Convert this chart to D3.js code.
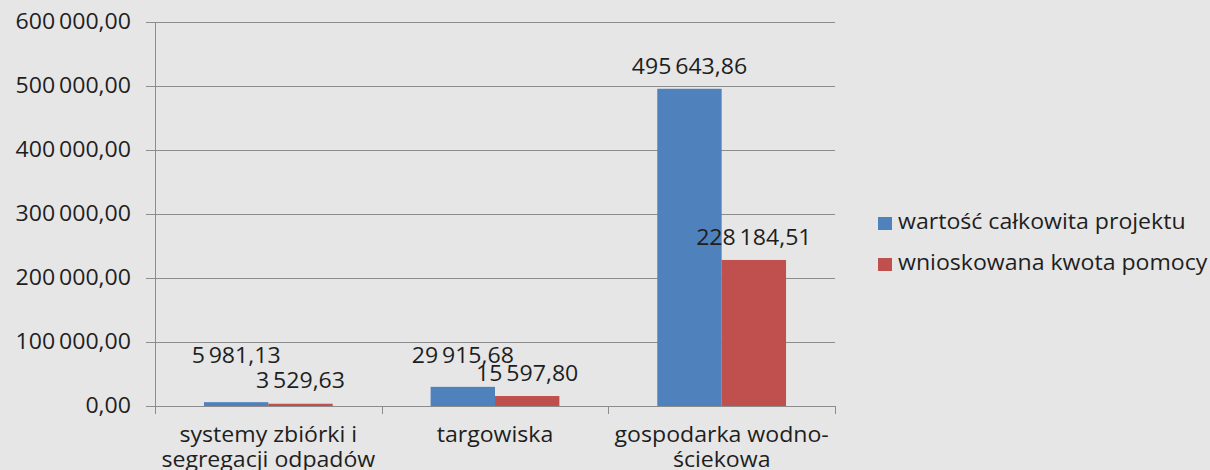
<!DOCTYPE html>
<html><head><meta charset="utf-8">
<script src="https://cdnjs.cloudflare.com/ajax/libs/d3/7.8.5/d3.min.js"></script>
<style>html,body{margin:0;padding:0;background:#e6e6e6;}svg{display:block;}</style>
</head><body>
<svg id="c" width="1210" height="470"></svg>
<script>
const categories = [["systemy zbiórki i","segregacji odpadów"],["targowiska"],["gospodarka wodno-","ściekowa"]];
const seriesNames = ["wartość całkowita projektu","wnioskowana kwota pomocy"];
const totalValues = [5981.13, 29915.68, 495643.86];
const aidValues = [3529.63, 15597.80, 228184.51];
const yTicks = [0,100000,200000,300000,400000,500000,600000];
const colors = ["#4F81BD","#C0504D"];

(function(){
const fmt = v => {
  const parts = v.toFixed(2).split(".");
  return parts[0].replace(/\B(?=(\d{3})+(?!\d))/g, "\u2009") + "," + parts[1];
};

const svg = d3.select("#c");
const font = "'Open Sans', sans-serif";
const fs = 21, sx = 1.1;
const pLeft = 155, pRight = 835, pTop = 22, pBottom = 406;
const y = d3.scaleLinear().domain([0,600000]).range([pBottom, pTop]);
const x = d3.scaleBand().domain(categories.map((d,i)=>i)).range([pLeft,pRight]).paddingInner(0.432).paddingOuter(0.216);
const x1 = d3.scaleBand().domain([0,1]).range([0, x.bandwidth()]);

function txt(g, tx, ty, anchor, s) {
  return g.append("text").attr("transform", `translate(${tx},${ty}) scale(${sx},1)`)
    .attr("text-anchor", anchor).attr("font-family", font).attr("font-size", fs)
    .attr("fill", "#1e1e1e").text(s);
}

svg.append("rect").attr("width",1210).attr("height",470).attr("fill","#e6e6e6");

svg.append("g").selectAll("line").data(yTicks).join("line")
  .attr("x1", pLeft-9).attr("x2", pRight).attr("y1", d=>y(d)+0.5).attr("y2", d=>y(d)+0.5)
  .attr("stroke","#8c8c8c").attr("stroke-width",1);

const gy = svg.append("g");
yTicks.forEach(d => txt(gy, 131, y(d)+7, "end", fmt(d)));

svg.append("line").attr("x1",pLeft+0.5).attr("x2",pLeft+0.5).attr("y1",pTop).attr("y2",pBottom+8).attr("stroke","#8c8c8c");
const catEdges = d3.range(categories.length+1).map(i => pLeft + (pRight-pLeft)*i/categories.length);
svg.append("g").selectAll("line").data(catEdges.slice(1)).join("line")
  .attr("x1",d=>Math.round(d)+0.5).attr("x2",d=>Math.round(d)+0.5).attr("y1",pBottom).attr("y2",pBottom+8).attr("stroke","#8c8c8c");

const series = [totalValues, aidValues];
series.forEach((vals, s) => {
  svg.append("g").selectAll("rect").data(vals).join("rect")
    .attr("x",(d,i)=>x(i)+x1(s)).attr("width",x1.bandwidth())
    .attr("y",d=>y(d)).attr("height",d=>pBottom-y(d))
    .attr("fill",colors[s]);
});
const gl = svg.append("g");
series.forEach((vals, s) => {
  vals.forEach((d,i) => txt(gl, x(i)+x1(s)+x1.bandwidth()/2, Math.min(y(d)-15, pBottom-43+s*25), "middle", fmt(d)));
});

const gc = svg.append("g");
categories.forEach((lines,i) => {
  lines.forEach((l,j) => txt(gc, x(i)+x.bandwidth()/2, 442 + j*25, "middle", l));
});

const gleg = svg.append("g");
seriesNames.forEach((n,i) => {
  gleg.append("rect").attr("x",878).attr("y",217+i*41).attr("width",14).attr("height",13).attr("fill",colors[i]);
  txt(gleg, 898, 229+i*41, "start", n);
});
})();
</script>
</body></html>
